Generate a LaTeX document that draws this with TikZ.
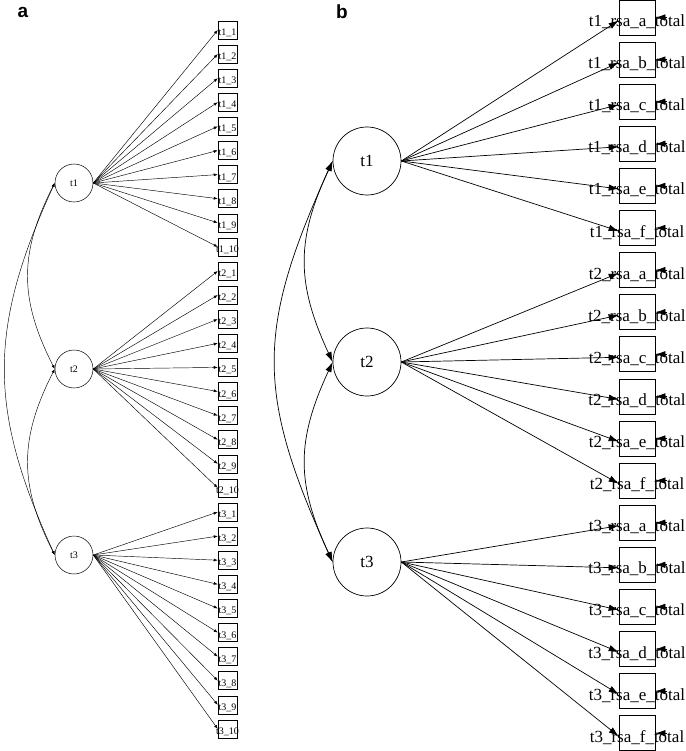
\documentclass[tikz,border=0pt]{standalone}
\usepackage{fontspec}
\setmainfont{Liberation Serif}
\newfontfamily\panelfont{Liberation Sans}
\usetikzlibrary{arrows.meta,calc}
\begin{document}
\begin{tikzpicture}[x=1pt,y=-1pt,
  panellab/.style={font=\panelfont\bfseries\fontsize{19}{20}\selectfont},
  lata/.style={circle,draw,line width=0.5pt,minimum size=38pt,inner sep=0pt,font=\fontsize{10}{11}\selectfont},
  boxa/.style={draw,line width=0.5pt,minimum width=19pt,minimum height=18pt,inner sep=0pt},
  txta/.style={anchor=base,inner sep=0pt,font=\fontsize{10}{11}\selectfont},
  arra/.style={line width=0.45pt,-{Latex[length=4pt,width=3pt]}},
  cova/.style={line width=0.45pt,{Latex[length=4pt,width=3pt]}-{Latex[length=4pt,width=3pt]}},
  latb/.style={circle,draw,line width=0.7pt,minimum size=68pt,inner sep=0pt,font=\fontsize{17}{20}\selectfont},
  boxb/.style={draw,line width=0.7pt,minimum width=36pt,minimum height=35pt,inner sep=0pt},
  txtb/.style={anchor=base,inner sep=0pt,font=\fontsize{17}{20}\selectfont},
  arrb/.style={line width=0.7pt,-{Latex[length=10pt,width=6.5pt]}},
  covb/.style={line width=0.7pt,{Latex[length=10pt,width=6.5pt]}-{Latex[length=10pt,width=6.5pt]}}
]
\useasboundingbox (0,0) rectangle (685,751);
\node[panellab] (pa) at (23,12) {a};
\node[panellab] (pb) at (342,12) {b};

% ---------- panel a ----------
\foreach \t/\cy in {1/183,2/369,3/555} {
  \node[lata] (a\t) at (74,\cy) {t\t};
}
\foreach \t in {1,2,3} {
  \foreach \i in {1,...,10} {
    \pgfmathsetmacro\yy{30+24.1*((\t-1)*10+\i-1)}
    \node[boxa] (ab\t-\i) at (227.5,\yy) {};
    \node[txta] (at\t-\i) at ($(ab\t-\i.center)+(0,5.5)$) {t\t\_\i};
    \draw[arra] (a\t.east) -- (ab\t-\i.west);
  }
}
\draw[cova] (a1.west) .. controls (19,253) and (19,299) .. (a2.west);
\draw[cova] (a2.west) .. controls (19,439) and (19,485) .. (a3.west);
\draw[cova] (a1.west) .. controls (-12,329) and (-12,409) .. (a3.west);

% ---------- panel b ----------
\foreach \t/\cy in {1/161,2/362,3/562} {
  \node[latb] (b\t) at (367,\cy) {t\t};
}
\foreach \t [evaluate=\t as \tt using int(\t-1)] in {1,2,3} {
  \foreach \l [count=\j from 0] in {a,b,c,d,e,f} {
    \pgfmathsetmacro\yy{17.5+42.1*(\tt*6+\j)}
    \node[boxb] (bb\t-\l) at (637,\yy) {};
    \node[txtb] (bt\t-\l) at ($(bb\t-\l.center)+(0,9)$) {t\t\_rsa\_\l\_total};
    \draw[arrb] (b\t.east) -- ([yshift=-3pt]bb\t-\l.west);
    \draw[arrb] ([xshift=12pt]bb\t-\l.east) -- (bb\t-\l.east);
  }
}
\draw[covb] (b1.west) .. controls (296,240) and (296,283) .. (b2.west);
\draw[covb] (b2.west) .. controls (296,441) and (296,483) .. (b3.west);
\draw[covb] (b1.west) .. controls (256,330) and (256,393) .. (b3.west);
\end{tikzpicture}
\end{document}
